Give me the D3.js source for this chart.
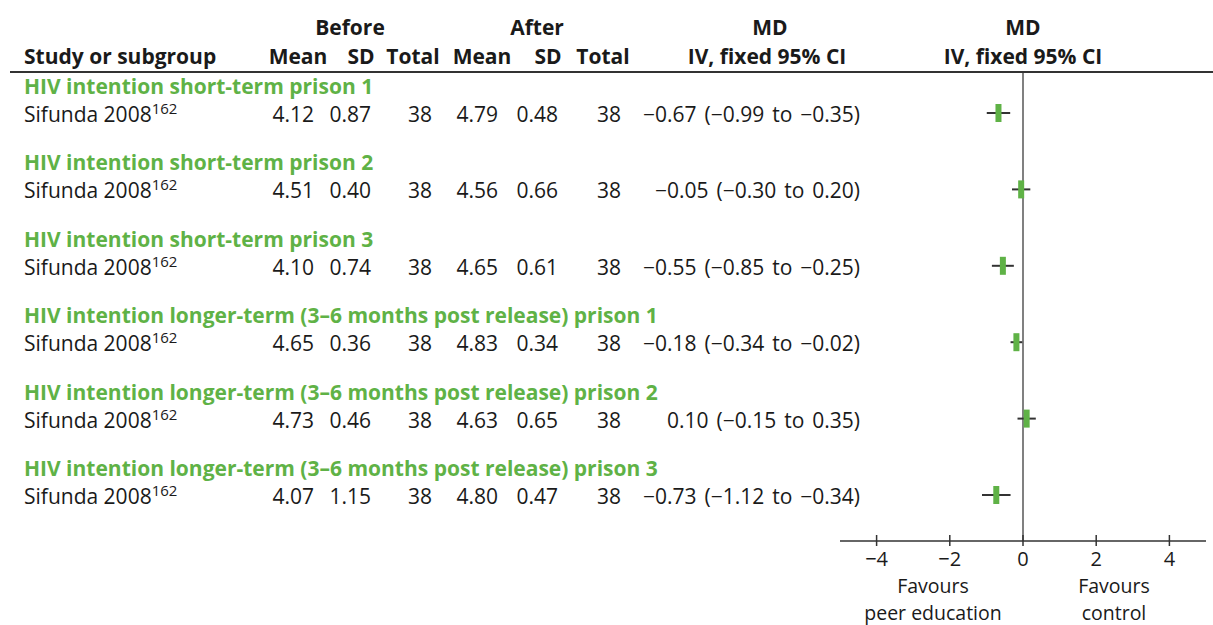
<!DOCTYPE html>
<html><head><meta charset="utf-8">
<script src="https://cdn.jsdelivr.net/npm/d3@7"></script>
<style>body{margin:0;background:#fff}svg{display:block}text{font-family:"Open Sans",sans-serif;fill:#1a1a1a}</style>
</head><body><svg id="c" width="1213" height="625"></svg>
<script>
const subgroups = ["HIV intention short-term prison 1","HIV intention short-term prison 2","HIV intention short-term prison 3","HIV intention longer-term (3\u20136 months post release) prison 1","HIV intention longer-term (3\u20136 months post release) prison 2","HIV intention longer-term (3\u20136 months post release) prison 3"];
const studies = ["Sifunda 2008","Sifunda 2008","Sifunda 2008","Sifunda 2008","Sifunda 2008","Sifunda 2008"];
const refs = ["162","162","162","162","162","162"];
const beforeMean = ["4.12","4.51","4.10","4.65","4.73","4.07"];
const beforeSD = ["0.87","0.40","0.74","0.36","0.46","1.15"];
const beforeN = [38,38,38,38,38,38];
const afterMean = ["4.79","4.56","4.65","4.83","4.63","4.80"];
const afterSD = ["0.48","0.66","0.61","0.34","0.65","0.47"];
const afterN = [38,38,38,38,38,38];
const md = [-0.67,-0.05,-0.55,-0.18,0.10,-0.73];
const lo = [-0.99,-0.30,-0.85,-0.34,-0.15,-1.12];
const hi = [-0.35,0.20,-0.25,-0.02,0.35,-0.34];
const ticks = [-4,-2,0,2,4];

const green = "#5fb246";
const svg = d3.select("#c");
const x = d3.scaleLinear().domain([-5,5]).range([840,1206]);
const y = d3.scaleLinear().domain([0,1]).range([115,191.4]); // study row center
const fmt = v => (v<0?"\u2212":"") + Math.abs(v).toFixed(2);
const FS = 21;

// headers
const hdr = [["Before",350,35,"middle"],["After",537,35,"middle"],["MD",770,35,"middle"],["MD",1023,35,"middle"],
 ["Study or subgroup",24,64,"start"],["Mean",298,64,"middle"],["SD",361,64,"middle"],["Total",413,64,"middle"],
 ["Mean",482,64,"middle"],["SD",548,64,"middle"],["Total",603,64,"middle"],["IV, fixed 95% CI",767,64,"middle"],["IV, fixed 95% CI",1023,64,"middle"]];
svg.selectAll("text.h").data(hdr).join("text").attr("class","h")
  .attr("x",d=>d[1]).attr("y",d=>d[2]).attr("text-anchor",d=>d[3])
  .attr("font-size",FS).attr("font-weight","bold").text(d=>d[0]);

svg.append("line").attr("x1",10).attr("x2",1213).attr("y1",72).attr("y2",72).attr("stroke","#333").attr("stroke-width",2);

// zero line
svg.append("line").attr("x1",x(0)).attr("x2",x(0)).attr("y1",73).attr("y2",541).attr("stroke","#808080").attr("stroke-width",2);

const rows = svg.selectAll("g.r").data(d3.range(subgroups.length)).join("g").attr("class","r");
rows.append("text").attr("x",24).attr("y",i=>y(i)-21).attr("font-size",FS).attr("font-weight","bold").style("fill",green).text(i=>subgroups[i]);
const st = rows.append("text").attr("x",24).attr("y",i=>y(i)+7).attr("font-size",FS);
st.append("tspan").text(i=>studies[i]);
st.append("tspan").attr("dy",-8).attr("font-size",15).text(i=>refs[i]);
const cell = (arr,xp,anchor) => rows.append("text").attr("x",xp).attr("y",i=>y(i)+7).attr("text-anchor",anchor).attr("font-size",FS).text(i=>arr[i]);
cell(beforeMean,314,"end");
cell(beforeSD,371,"end");
cell(beforeN,432,"end");
cell(afterMean,498,"end");
cell(afterSD,558,"end");
cell(afterN,621,"end");
rows.append("text").attr("x",860).attr("y",i=>y(i)+7).attr("text-anchor","end").attr("font-size",FS).attr("word-spacing",2.5)
  .text(i=>`${fmt(md[i])} (${fmt(lo[i])} to ${fmt(hi[i])})`);

rows.append("line").attr("x1",i=>x(lo[i])).attr("x2",i=>x(hi[i])).attr("y1",i=>y(i)-2).attr("y2",i=>y(i)-2).attr("stroke","#333").attr("stroke-width",2);
rows.append("rect").attr("x",i=>x(md[i])-3).attr("width",6).attr("y",i=>y(i)-11).attr("height",18).attr("fill",green);

// axis
const ax = svg.append("g");
ax.append("line").attr("x1",x(-5)).attr("x2",x(5)).attr("y1",541).attr("y2",541).attr("stroke","#333").attr("stroke-width",1.5);
ax.selectAll("line.t").data(ticks).join("line").attr("class","t").attr("x1",d=>x(d)).attr("x2",d=>x(d)).attr("y1",535).attr("y2",546).attr("stroke","#333").attr("stroke-width",1.5);
ax.selectAll("text.t").data(ticks).join("text").attr("class","t").attr("x",d=>x(d)).attr("y",566).attr("text-anchor","middle").attr("font-size",20).text(d=>d<0?"\u2212"+Math.abs(d):d);
const fav = [["Favours",933,593],["peer education",933,619.5],["Favours",1114,593],["control",1114,619.5]];
ax.selectAll("text.f").data(fav).join("text").attr("class","f").attr("x",d=>d[1]).attr("y",d=>d[2]).attr("text-anchor","middle").attr("font-size",19.5).text(d=>d[0]);
</script></body></html>
